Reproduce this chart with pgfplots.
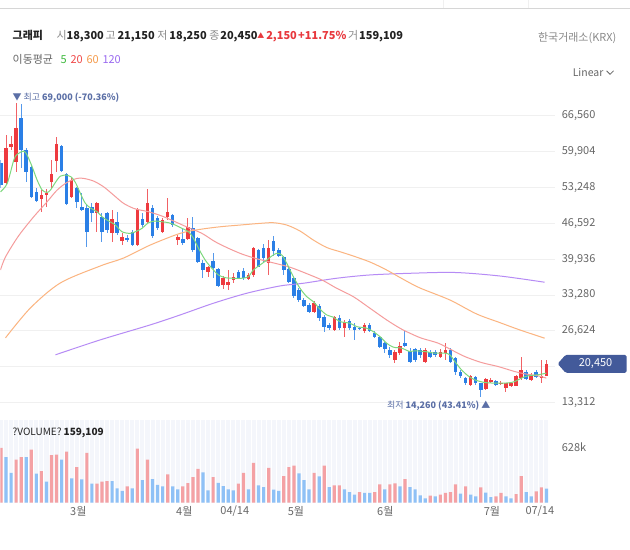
\documentclass[border=0pt]{standalone}
\usepackage{pgfplots}
\pgfplotsset{compat=1.18}
\usepackage{pgfplotstable}
\usepackage{fontspec}
\setmainfont{Noto Sans CJK KR}
\newcommand\fs[1]{\fontsize{#1}{#1}\selectfont}
\definecolor{upred}{HTML}{EE3A3F}
\definecolor{dnblue}{HTML}{2A7FE6}
\definecolor{vred}{HTML}{F4A1A4}
\definecolor{vblue}{HTML}{8FC1F6}
\definecolor{ma5}{HTML}{7DD87D}
\definecolor{ma20}{HTML}{F59C9C}
\definecolor{ma60}{HTML}{FBB480}
\definecolor{ma120}{HTML}{B68BF5}
\definecolor{gridgray}{HTML}{F0F0F0}
\definecolor{tickgray}{HTML}{666666}
\definecolor{volbg}{HTML}{F4F6FB}
\definecolor{slate}{HTML}{5B6FA6}
\definecolor{boxblue}{HTML}{435A9A}
\definecolor{darktext}{HTML}{222222}
\definecolor{labgray}{HTML}{8A8A8A}
\definecolor{hdrred}{HTML}{E8383D}
\definecolor{lg5}{HTML}{3CB93C}
\definecolor{lg20}{HTML}{F04848}
\definecolor{lg60}{HTML}{F59A4A}
\definecolor{lg120}{HTML}{9A6AF0}
\definecolor{topline}{HTML}{D6D6D6}

\pgfplotstableread{
i o h l c
1 53990 62950 53680 60480
2 60670 62820 60160 61280
3 58000 69000 56140 64190
8 51080 52750 48730 51820
9 51820 52930 49650 52190
10 54180 58310 53060 55660
11 58130 62630 56140 61220
14 51510 54970 51270 54600
19 48430 50580 45020 50340
22 44720 49040 43160 47370
24 43290 44720 42550 44090
27 42550 49360 42420 49230
29 46870 52930 46570 50340
32 45020 47560 44780 47190
33 47690 51210 47190 48730
35 43480 44410 42550 43980
37 43610 47560 43480 45940
41 37600 38660 36670 38420
44 35140 36800 34390 36430
45 35140 37920 34210 35750
46 36060 37360 35510 36670
49 36250 37300 36060 36990
50 36990 42240 36670 41940
53 39160 43480 36990 41940
62 30190 32170 29940 31850
66 26790 29390 26610 29150
68 27110 28650 25550 28330
72 26510 28090 26240 27720
78 21230 23080 20620 22770
79 22580 24620 22160 23830
84 20920 23400 20620 23080
87 21840 23210 21550 22770
88 22470 24330 21230 23080
93 16600 18450 16410 18260
96 15800 17840 15670 17650
97 17210 17840 16910 17520
99 16780 17210 16540 17020
100 15980 17020 15170 16910
101 16410 17020 16170 16910
102 16410 18450 16280 18260
103 17840 21730 17520 19250
105 17520 18760 17210 18450
107 17840 21230 16910 18300
108 18300 21150 18250 20450
}\up

\pgfplotstableread{
i o h l c
0 57700 58310 53120 53680
4 66150 68820 56880 60160
5 60160 60540 54180 56140
6 57070 57380 51270 51510
7 52430 53120 50520 50710
12 60910 61090 56140 56270
13 55660 55900 49970 50100
15 53170 53360 49410 50470
16 49650 52190 48950 49040
17 49360 49970 42240 45020
18 49650 50340 46870 48430
20 47800 48480 43160 45020
21 48430 48730 44780 45330
23 46870 48730 44410 44720
25 43790 44410 43160 43610
26 45020 45330 42420 42550
28 47320 48430 45940 46260
30 49410 49970 43850 44220
31 47560 47930 45330 45700
34 48110 48300 45890 46260
36 43610 45700 42550 42870
38 45650 47800 41310 41620
39 43790 44090 39160 39460
40 39270 39770 36380 37920
42 39640 41070 36430 38230
43 38050 38290 34820 34950
47 37600 37920 36250 36380
48 37790 38230 36060 36490
51 41620 41750 38420 38530
52 42000 42740 39400 40140
54 43290 44220 40510 41440
55 41620 42000 40330 40510
56 40380 40510 36990 37920
57 38050 38470 35510 35750
58 36430 36800 32730 33100
59 34210 34580 31980 32350
60 32350 32730 31060 31240
61 31430 31800 29940 30190
63 31240 31610 28460 28960
64 29260 29570 26480 27290
65 27720 28090 26790 27110
67 28960 29570 26790 27110
69 28520 28830 26790 27110
70 27400 28030 24940 26790
71 27220 27400 26790 26980
73 27720 28090 26420 26660
74 26290 26610 25250 25490
75 25440 25680 23400 23700
76 24380 24620 22580 23210
77 23080 23640 21600 22160
80 24440 26660 23700 23830
81 22950 23460 20670 20920
82 23210 23400 20920 21230
83 23080 23400 21550 22160
85 22770 23080 21550 21840
86 22770 23080 21840 22160
89 23080 23400 20620 20920
90 21550 21840 18450 19060
91 19060 19380 17840 18260
92 17840 18130 16600 16910
94 18130 18260 16600 16910
95 16910 17020 14260 15670
98 17210 17520 16410 16600
104 19060 19380 17520 17650
106 19060 19380 17840 18020
}\down

\pgfplotstableread{
i v
0 625
3 492
4 519
6 606
8 360
10 542
11 549
13 583
15 405
17 568
19 216
20 239
21 246
25 186
27 617
29 492
33 322
36 186
37 223
38 292
39 386
42 292
47 216
48 341
50 454
53 398
56 303
57 405
58 424
62 341
64 424
66 197
67 197
71 121
74 121
75 208
77 208
78 220
80 269
85 80
87 91
88 110
89 121
90 208
92 186
95 174
98 72
99 110
102 98
103 303
106 129
107 174
}\volup

\pgfplotstableread{
i v
1 519
2 341
5 519
7 330
9 239
12 492
14 276
16 265
18 216
22 246
23 163
24 133
26 163
28 258
30 269
31 204
32 186
34 186
35 151
40 345
41 140
43 227
44 189
45 151
46 140
49 151
51 197
52 178
54 148
55 133
59 333
60 258
61 151
63 299
65 178
68 151
69 121
70 91
72 110
73 110
76 151
79 186
81 178
82 151
83 83
84 49
86 72
91 102
93 91
94 72
96 114
97 64
100 72
101 49
104 121
105 72
108 159
}\voldown

\begin{document}
\begin{tikzpicture}
\fill[white] (0pt,0pt) rectangle (630pt,-550pt);
\draw[topline, line width=1pt] (0pt,-8.5pt) -- (630pt,-8.5pt);
\draw[gridgray, line width=0.8pt] (444pt,0pt) -- (444pt,-8pt);
\draw[gridgray, line width=0.8pt] (529pt,0pt) -- (529pt,-8pt);

% ---------------- price pane ----------------
\begin{axis}[
  at={(0pt,-415pt)}, anchor=south west, scale only axis,
  width=555pt, height=327pt,
  xmin=-0.099, xmax=109.63, ymin=11033, ymax=71659,
  axis line style={draw=none}, tick style={draw=none},
  major tick length=0pt,
  xtick=\empty,
  scaled y ticks=false,
  ytick={13312,19968,26624,33280,39936,46592,53248,59904,66560},
  yticklabels={{13,312},{},{26,624},{33,280},{39,936},{46,592},{53,248},{59,904},{66,560}},
  yticklabel pos=right,
  yticklabel style={anchor=west, inner sep=0pt, xshift=7pt, font=\fs{11pt}, text=tickgray},
  ymajorgrids, grid style={gridgray, line width=0.7pt},
  /pgf/number format/assume math mode=true,
]
% wicks
\addplot[draw=none, mark=none, forget plot,
  error bars/.cd, y dir=both, y explicit, error mark=none,
  error bar style={line width=1pt, draw=upred!80}]
  table[x=i, y expr={(\thisrow{h}+\thisrow{l})/2}, y error expr={(\thisrow{h}-\thisrow{l})/2}] {\up};
\addplot[draw=none, mark=none, forget plot,
  error bars/.cd, y dir=both, y explicit, error mark=none,
  error bar style={line width=1pt, draw=dnblue!80}]
  table[x=i, y expr={(\thisrow{h}+\thisrow{l})/2}, y error expr={(\thisrow{h}-\thisrow{l})/2}] {\down};
% bodies
\addplot[draw=none, mark=none, forget plot,
  error bars/.cd, y dir=both, y explicit, error mark=none,
  error bar style={line width=3.6pt, draw=upred}]
  table[x=i, y expr={(\thisrow{o}+\thisrow{c})/2}, y error expr={max(abs(\thisrow{o}-\thisrow{c})/2,80)}] {\up};
\addplot[draw=none, mark=none, forget plot,
  error bars/.cd, y dir=both, y explicit, error mark=none,
  error bar style={line width=3.6pt, draw=dnblue}]
  table[x=i, y expr={(\thisrow{o}+\thisrow{c})/2}, y error expr={max(abs(\thisrow{o}-\thisrow{c})/2,80)}] {\down};

% MA120
\addplot[ma120, line width=1pt, smooth, mark=none] coordinates {
(10.78,22160)(19.67,24940)(29.56,27720)(35.49,29570)(42.07,31740)(48.68,33600)(55.26,34950)(59.87,35450)(66.47,36380)(73.05,36990)(80.96,37300)(89.86,37450)(98.76,36800)(107.65,35640)};
% MA60
\addplot[ma60, line width=1pt, smooth, mark=none] coordinates {
(0.89,25310)(5.83,30870)(11.76,35510)(19.67,38660)(24.28,40140)(29.56,42550)(35.49,44720)(39.45,45460)(43.4,45940)(47.35,46260)(51.3,46570)(53.93,46690)(56.58,46260)(59.21,45150)(61.84,43480)(64.49,42090)(67.12,41310)(69.75,40510)(73.05,39400)(76.35,37920)(79.64,36190)(82.94,34580)(88.87,32350)(94.15,29760)(98.76,28150)(102.71,26790)(107.65,25250)};
% MA20
\addplot[ma20, line width=1pt, smooth, mark=none] coordinates {
(-0.1,37920)(0.89,40330)(3.46,44220)(6.48,47800)(9.13,50580)(11.11,52750)(13.09,54180)(15.07,54920)(16.37,54920)(18.35,54420)(20.32,53360)(22.3,51820)(24.28,50280)(26.26,49360)(27.58,49040)(29.22,48730)(31.87,47930)(34.5,46870)(37.13,45760)(39.78,44720)(42.41,43160)(45.04,41940)(47.69,40880)(50.32,40090)(52.95,39460)(57.24,38420)(61.19,36990)(63.82,35930)(66.47,34520)(69.75,32970)(73.05,30820)(76.35,28650)(78.98,27110)(80.96,26180)(83.27,25250)(86.56,24330)(89.2,23080)(91.84,21840)(95.14,20730)(98.42,19990)(101.72,19060)(103.7,18630)(106.33,18260)(107.99,17840)};
% MA5
\addplot[ma5, line width=1pt, smooth, mark=none] coordinates {
(-0.1,52430)(1.23,53990)(2.53,58310)(3.2,59370)(4.5,59980)(5.18,59240)(6.17,57070)(7.16,54600)(8.15,52750)(9.13,52320)(9.79,52750)(10.78,54180)(11.76,55340)(13.09,55530)(13.88,55210)(14.73,54180)(15.72,52140)(16.71,50280)(17.83,49360)(19.02,48730)(20.0,47800)(21.0,47190)(22.64,46260)(23.96,45020)(25.6,44720)(26.93,45150)(27.92,45650)(29.22,46690)(30.55,47000)(31.87,46870)(33.18,46690)(34.5,46260)(35.83,45650)(37.13,45020)(38.12,43790)(39.11,41940)(40.43,39770)(41.76,38230)(43.06,36990)(44.39,36490)(45.71,36380)(47.69,36380)(48.99,36670)(49.98,37920)(51.3,38840)(52.63,39770)(53.62,40510)(54.61,41010)(55.6,40700)(56.58,39160)(57.89,36670)(59.21,34520)(60.54,32970)(61.84,32040)(63.17,30630)(64.49,29570)(65.8,29150)(67.12,28330)(69.1,28030)(70.42,27400)(72.4,27110)(73.7,26480)(75.03,25550)(76.35,24330)(77.66,23590)(79.32,23400)(80.96,22770)(81.95,22900)(83.93,22770)(85.9,22470)(87.88,22470)(88.87,22160)(89.86,20920)(91.18,19380)(92.49,18260)(93.81,17520)(95.79,17020)(97.77,16910)(99.74,16910)(101.07,17020)(102.06,17340)(103.05,17840)(104.35,18260)(106.33,18450)(107.99,18760)};
\end{axis}

% ---------------- volume pane ----------------
\begin{axis}[
  at={(0pt,-503pt)}, anchor=south west, scale only axis,
  width=549.3pt, height=83pt,
  xmin=-0.099, xmax=108.5, ymin=0, ymax=947.7,
  axis line style={draw=none}, tick style={draw=none},
  major tick length=0pt,
  scaled y ticks=false,
  axis background/.style={fill=volbg},
  xtick={-0.5,0.5,...,108.5}, xticklabels={},
  xmajorgrids, grid style={white, line width=0.9pt},
  extra x ticks={15.3,36.3,46.3,58.4,76.1,97.2,106.7},
  extra x tick labels={3월,4월,04/14,5월,6월,7월,07/14},
  extra x tick style={grid=none},
  xticklabel style={font=\fs{11pt}, text=tickgray},
  ytick={628}, yticklabels={628k},
  yticklabel pos=right,
  yticklabel style={anchor=west, inner sep=0pt, xshift=12.7pt, font=\fs{11pt}, text=tickgray},
  ybar, bar width=3.2pt,
]
\addplot[fill=vred, draw=none, bar shift=0pt] table[x=i, y=v] {\volup};
\addplot[fill=vblue, draw=none, bar shift=0pt] table[x=i, y=v] {\voldown};
\end{axis}

% ---------------- texts ----------------
\begin{scope}[every node/.style={inner sep=0pt, anchor=base west}]
\node[font=\fs{11pt}\bfseries, text=darktext] at (12pt,-39.5pt) {그래피};
\node[font=\fs{11pt}, text=labgray] at (56pt,-39.5pt) {시};
\node[font=\fs{11pt}\bfseries, text=darktext] at (66pt,-39.5pt) {18,300};
\node[font=\fs{11pt}, text=labgray] at (105pt,-39.5pt) {고};
\node[font=\fs{11pt}\bfseries, text=darktext] at (117pt,-39.5pt) {21,150};
\node[font=\fs{11pt}, text=labgray] at (157pt,-39.5pt) {저};
\node[font=\fs{11pt}\bfseries, text=darktext] at (169pt,-39.5pt) {18,250};
\node[font=\fs{11pt}, text=labgray] at (209pt,-39.5pt) {종};
\node[font=\fs{11pt}\bfseries, text=darktext] at (220pt,-39.5pt) {20,450};
\node[font=\fs{7pt}, text=hdrred] at (257pt,-38.5pt) {▲};
\node[font=\fs{11pt}\bfseries, text=hdrred] at (266pt,-39.5pt) {2,150};
\node[font=\fs{11pt}\bfseries, text=hdrred] at (298pt,-39.5pt) {+11.75\%};
\node[font=\fs{11pt}, text=labgray] at (348pt,-39.5pt) {거};
\node[font=\fs{11pt}\bfseries, text=darktext] at (359pt,-39.5pt) {159,109};
\node[font=\fs{11pt}, text=labgray, anchor=base east] at (617pt,-41pt) {한국거래소(KRX)};

\node[font=\fs{11pt}, text=tickgray] at (12pt,-63pt) {이동평균};
\node[font=\fs{11pt}, text=lg5] at (60pt,-63pt) {5};
\node[font=\fs{11pt}, text=lg20] at (70pt,-63pt) {20};
\node[font=\fs{11pt}, text=lg60] at (86pt,-63pt) {60};
\node[font=\fs{11pt}, text=lg120] at (102pt,-63pt) {120};

\node[font=\fs{10.5pt}, text=tickgray] at (573pt,-76pt) {Linear};

\node[font=\fs{9pt}, text=slate] at (12pt,-100.5pt) {▼ 최고 \textbf{69,000 (-70.36\%)}};
\node[font=\fs{9pt}, text=slate] at (387pt,-408.5pt) {최저 \textbf{14,260 (43.41\%)} ▲};

\node[font=\fs{10pt}, text=darktext] at (12pt,-436pt) {?VOLUME? \textbf{159,109}};
\end{scope}
\draw[tickgray, line width=0.8pt] (607pt,-70.5pt) -- (610.5pt,-74pt) -- (614pt,-70.5pt);

% current price tag
\fill[boxblue, rounded corners=1.5pt] (558pt,-364pt) -- (566pt,-355pt) -- (627pt,-355pt) -- (627pt,-373pt) -- (566pt,-373pt) -- cycle;
\node[font=\fs{11pt}, text=white, inner sep=0pt] at (596pt,-364pt) {20,450};
\end{tikzpicture}
\end{document}
